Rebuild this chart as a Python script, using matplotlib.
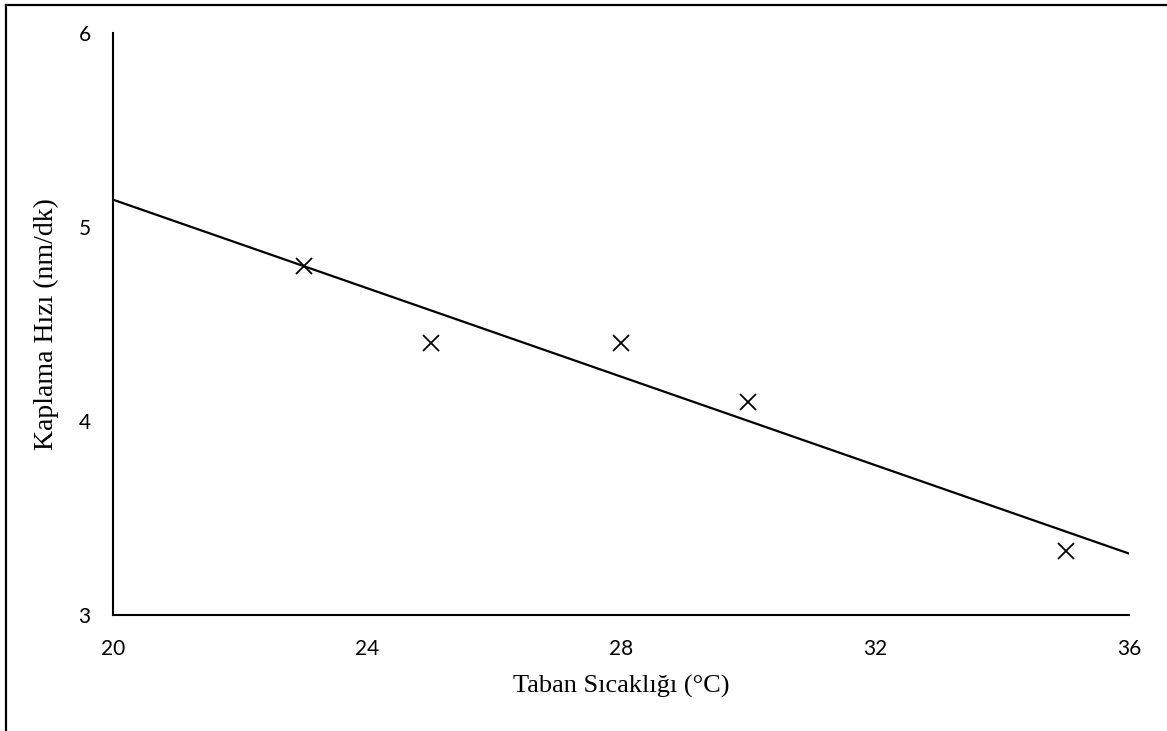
import numpy as np
import matplotlib
matplotlib.use("Agg")
import matplotlib.pyplot as plt
from matplotlib.lines import Line2D

# Datos del grafico
sicaklik = [23, 25, 28, 30, 35]
hiz = [4.8, 4.4, 4.4, 4.1, 3.33]
x_ticks = [20, 24, 28, 32, 36]
y_ticks = [3, 4, 5, 6]

fig = plt.figure(figsize=(11.67, 7.31), dpi=100)
ax = fig.add_axes([113 / 1167, 1 - 615 / 731, (1129 - 113) / 1167, (615 - 33) / 731])

# Puntos
ax.plot(sicaklik, hiz, linestyle="none", marker="x", markersize=11,
        markeredgewidth=1.3, color="black", zorder=3)

# Linea de tendencia lineal
coef = np.polyfit(sicaklik, hiz, 1)
xs = np.array([x_ticks[0], x_ticks[-1]])
ax.plot(xs, np.polyval(coef, xs), color="black", linewidth=1.6, zorder=2)

ax.set_xlim(20, 36)
ax.set_ylim(3, 6)
ax.set_xticks(x_ticks)
ax.set_yticks(y_ticks)
ax.tick_params(length=0, labelsize=15)
ax.tick_params(axis="y", pad=16)
ax.tick_params(axis="x", pad=17)
for lbl in ax.get_xticklabels() + ax.get_yticklabels():
    lbl.set_fontfamily("Lato")

for s in ["top", "right"]:
    ax.spines[s].set_visible(False)
for s in ["left", "bottom"]:
    ax.spines[s].set_linewidth(1.5)
    ax.spines[s].set_color("black")

ax.set_xlabel("Taban Sıcaklığı (°C)", fontfamily="Liberation Serif", fontsize=19, labelpad=12)
ax.set_ylabel("Kaplama Hızı (nm/dk)", fontfamily="Liberation Serif", fontsize=20, labelpad=14)

# Marco exterior (solo se ve arriba e izquierda)
fig.add_artist(Line2D([6 / 1167, 6 / 1167], [0, 1 - 5 / 731], transform=fig.transFigure,
                      color="black", linewidth=1.6))
fig.add_artist(Line2D([6 / 1167, 1], [1 - 5 / 731, 1 - 5 / 731], transform=fig.transFigure,
                      color="black", linewidth=1.6))

fig.savefig("out.png", dpi=100)
